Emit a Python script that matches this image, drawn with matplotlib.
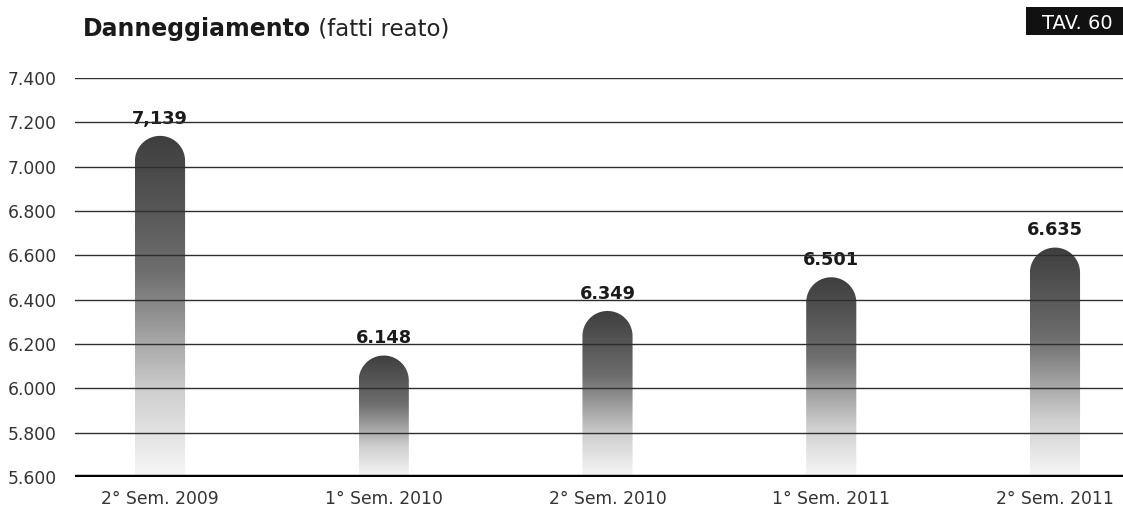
import numpy as np
import matplotlib
matplotlib.use('Agg')
import matplotlib.pyplot as plt
from matplotlib.colors import LinearSegmentedColormap
from matplotlib.path import Path
from matplotlib.patches import PathPatch, Rectangle

plt.rcParams['font.family'] = ['DejaVu Sans']

categories = ['2° Sem. 2009', '1° Sem. 2010', '2° Sem. 2010', '1° Sem. 2011', '2° Sem. 2011']
values = [7139, 6148, 6349, 6501, 6635]
value_labels = ['7,139', '6.148', '6.349', '6.501', '6.635']
y_ticks = [5600, 5800, 6000, 6200, 6400, 6600, 6800, 7000, 7200, 7400]

base = 5600
half_w = 0.112

fig = plt.figure(figsize=(11.23, 5.13), dpi=100)
ax = fig.add_axes([75 / 1123, 36 / 513, 1048 / 1123, 399 / 513])
ax.set_xlim(-0.38, 4.304)
ax.set_ylim(5600, 7400)

# pixel scale, so the rounded tops come out as half circles
p0 = ax.transData.transform((0, base))
p1 = ax.transData.transform((1, base + 200))
sx = p1[0] - p0[0]
sy = (p1[1] - p0[1]) / 200
ry = half_w * sx / sy

cmap = LinearSegmentedColormap.from_list(
    'bar', [(0, '#f7f7f7'), (0.25, '#cfcfcf'), (0.6, '#6e6e6e'), (1, '#3e3e3e')])
grad = np.linspace(0, 1, 256).reshape(-1, 1)

for i, v in enumerate(values):
    t = np.linspace(np.pi, 0, 40)
    arc = np.column_stack([i + half_w * np.cos(t), v - ry + ry * np.sin(t)])
    verts = np.vstack([[i - half_w, base], arc, [i + half_w, base], [i - half_w, base]])
    codes = [Path.MOVETO] + [Path.LINETO] * (len(verts) - 2) + [Path.CLOSEPOLY]
    patch = PathPatch(Path(verts, codes), facecolor='none', edgecolor='none')
    ax.add_patch(patch)
    im = ax.imshow(grad, cmap=cmap, origin='lower', aspect='auto',
                   extent=(i - half_w, i + half_w, base, v), zorder=1)
    im.set_clip_path(patch)
    ax.annotate(value_labels[i], (i, v), xytext=(0, 6), textcoords='offset points',
                ha='center', va='bottom', fontsize=12.8, fontweight='bold', color='#1a1a1a')

ax.set_xlim(-0.38, 4.304)
ax.set_ylim(5600, 7400)

for y in y_ticks[1:]:
    ax.axhline(y, color='#2e2e2e', lw=1, zorder=3)
ax.axhline(base, color='black', lw=3.2, zorder=4)

for s in ax.spines.values():
    s.set_visible(False)

ax.set_yticks(y_ticks)
ax.set_yticklabels([f'{t:,}'.replace(',', '.') for t in y_ticks])
ax.set_xticks(range(len(categories)))
ax.set_xticklabels(categories)
ax.tick_params(axis='y', length=0, pad=13, labelsize=12.3, labelcolor='#333333')
ax.tick_params(axis='x', length=0, pad=9, labelsize=12.3, labelcolor='#333333')

t1 = fig.text(83 / 1123, 1 - 36 / 513, 'Danneggiamento', fontsize=17,
              fontweight='bold', color='#1a1a1a', va='baseline', ha='left')
ax.annotate(' (fatti reato)', xy=(1, 0), xycoords=t1, fontsize=16.5,
            color='#222222', va='bottom', ha='left', annotation_clip=False)

fig.patches.append(Rectangle((1026 / 1123, 1 - 35 / 513), 97 / 1123, 28 / 513,
                             transform=fig.transFigure, facecolor='#111111',
                             edgecolor='none'))
fig.text(1042 / 1123, 1 - 29 / 513, 'TAV. 60', fontsize=14, color='white',
         ha='left', va='baseline')

fig.savefig('out.png', dpi=100)
